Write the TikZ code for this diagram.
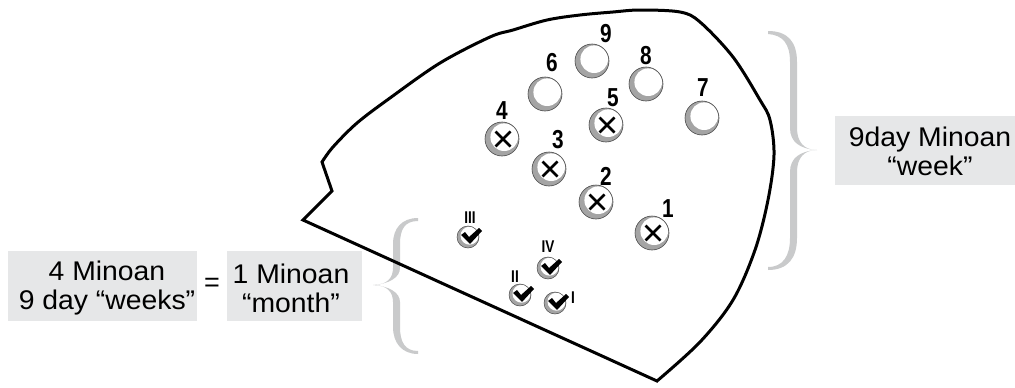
\documentclass[tikz,border=0pt]{standalone}
\usepackage{fontspec}
\setmainfont{Liberation Sans}
\definecolor{boxgray}{HTML}{E6E7E8}
\definecolor{bracegray}{HTML}{C9CACB}
\definecolor{discgray}{HTML}{A4A4A4}
\definecolor{discedge}{HTML}{4A4A4A}
\newcommand{\numfont}{\bfseries\fontsize{26}{26}\selectfont}
\newcommand{\romfont}{\bfseries\fontsize{17}{17}\selectfont}
\newcommand{\num}[1]{\scalebox{0.8}[1]{#1}}
\newcommand{\wide}[1]{\scalebox{1.05}[1]{#1}}
\begin{document}
\begin{tikzpicture}[x=1pt,y=-1pt,
  outline/.style={line width=3pt, line join=miter, black},
  bracefill/.style={fill=bracegray},
  boxfill/.style={fill=boxgray},
  boxtext/.style={align=center, inner sep=0pt, font=\fontsize{27}{29}\selectfont},
  numlabel/.style={inner sep=0pt, font=\numfont},
  romlabel/.style={inner sep=0pt, font=\romfont},
  xmark/.style={line width=2.8pt, black},
  pics/disc/.style={code={
    \fill[discgray] (0,0) circle (17pt);
    \fill[white] (2.2,-1.8) circle (13.8pt);
    \draw[discedge, line width=0.6pt] (0,0) circle (17pt);
  }},
  pics/xdisc/.style={code={
    \pic {disc};
    \draw[xmark] (-6.5,-7.5) -- (8.5,7.5) (-6.5,7.5) -- (8.5,-7.5);
  }},
  pics/checkdisc/.style={code={
    \fill[discgray] (0,0) circle (11pt);
    \fill[white] (1.5,-1.3) circle (9pt);
    \draw[discedge, line width=0.5pt] (0,0) circle (11pt);
    \fill[black] (-7,-2) -- (-3,-5) -- (1,0) -- (11,-9) -- (14,-6) -- (2,7) -- cycle;
  }}
]
\useasboundingbox (0,0) rectangle (1015,388);

% braces
\fill[bracefill] (768,31) .. controls (788,31) and (797,42) .. (797,62) -- (797,128)
  .. controls (797,142) and (804,150) .. (817,150)
  .. controls (804,150) and (797,158) .. (797,172) -- (797,238)
  .. controls (797,258) and (788,270) .. (768,270) -- (768,267)
  .. controls (783,267) and (790,256) .. (790,238) -- (790,172)
  .. controls (790,158) and (800,151) .. (817,150)
  .. controls (800,149) and (790,142) .. (790,128) -- (790,62)
  .. controls (790,44) and (783,35) .. (768,34) -- cycle;
\fill[bracefill] (418,218) .. controls (402,218) and (393,228) .. (393,244) -- (393,268)
  .. controls (393,278) and (387,285) .. (373,285)
  .. controls (387,285) and (393,292) .. (393,302) -- (393,327)
  .. controls (393,343) and (402,354) .. (418,354) -- (418,351)
  .. controls (405,351) and (400,342) .. (400,327) -- (400,302)
  .. controls (400,292) and (388,286) .. (373,285)
  .. controls (388,284) and (400,278) .. (400,268) -- (400,244)
  .. controls (400,229) and (405,221) .. (418,221) -- cycle;

% text boxes
\fill[boxfill] (835,116) rectangle (1015,185);
\node[boxtext] (week) at (930,151) {\wide{9day Minoan}\\\wide{``week''}};
\fill[boxfill] (8,251) rectangle (197,321);
\node[boxtext] (weeks) at (107,288) {\wide{4 Minoan}\\\wide{9 day ``weeks''}};
\node[inner sep=0pt, font=\fontsize{27}{29}\selectfont] (eq) at (212,285) {=};
\fill[boxfill] (227,251) rectangle (362,321);
\node[boxtext] (month) at (291,288) {\wide{1 Minoan}\\\wide{``month''}};

% outline
\draw[outline] (322,162) -- (332,191) -- (303,220) -- plot[smooth, tension=0.55] coordinates {
  (657,381) (700,342) (733,300) (755,250) (768,200) (774,155) (770,120) (760,100)
  (733,57) (700,22) (680,12) (640,10) (613,12) (580,15) (547,20) (513,30) (490,37)
  (440,63) (390,98) (357,123) (333,147) (322,162)} -- cycle;

% plain discs
\pic at (592,61) {disc};
\pic at (545,94) {disc};
\pic at (646,84) {disc};
\pic at (702,118) {disc};
% crossed discs
\pic at (502,139) {xdisc};
\pic at (549,169) {xdisc};
\pic at (606,125) {xdisc};
\pic at (596,202) {xdisc};
\pic at (652,233) {xdisc};
% checked discs
\pic at (468,237) {checkdisc};
\pic at (548,268) {checkdisc};
\pic at (520,295) {checkdisc};
\pic at (555,303) {checkdisc};

% number labels
\node[numlabel] (n9) at (606,34) {\num{9}};
\node[numlabel] (n6) at (552,63) {\num{6}};
\node[numlabel] (n8) at (646,56) {\num{8}};
\node[numlabel] (n5) at (613,98) {\num{5}};
\node[numlabel] (n7) at (703,88) {\num{7}};
\node[numlabel] (n4) at (502,111) {\num{4}};
\node[numlabel] (n3) at (558,140) {\num{3}};
\node[numlabel] (n2) at (606,176) {\num{2}};
\node[numlabel] (n1) at (668,209) {\num{1}};
% roman labels
\node[romlabel] (r3) at (470,218) {\num{III}};
\node[romlabel] (r4) at (548,247) {\num{IV}};
\node[romlabel] (r2) at (515,277) {\num{II}};
\node[romlabel] (r1) at (573,298) {\num{I}};
\end{tikzpicture}
\end{document}
